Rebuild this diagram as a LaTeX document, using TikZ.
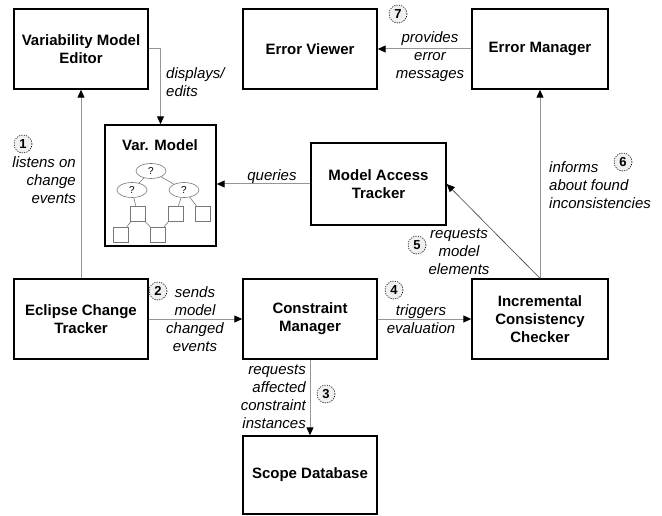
\documentclass[tikz,border=0pt]{standalone}
\usepackage{fontspec}
\setmainfont{Liberation Sans}
\usetikzlibrary{arrows.meta,calc,shapes.geometric}
\definecolor{conngray}{RGB}{150,150,150}
\definecolor{treegray}{RGB}{120,120,120}
\begin{document}
\begin{tikzpicture}[x=1pt,y=-1pt,
  box/.style={draw=black, line width=1.4pt, align=center, font=\fontsize{15}{18}\selectfont\bfseries, inner sep=0pt},
  conn/.style={draw=conngray, line width=1pt, -{Triangle[length=8pt,width=7pt,color=black]}},
  diag/.style={draw=black!75, line width=0.6pt, -{Triangle[length=8pt,width=7pt,color=black]}},
  lbl/.style={font=\fontsize{15}{18}\selectfont\itshape, inner sep=0pt},
  num/.style={circle, draw=black, dash pattern=on 1.2pt off 1.2pt, line width=0.6pt, fill=gray!12, minimum size=18pt, inner sep=0pt, font=\fontsize{13}{13}\selectfont\bfseries},
  tell/.style={ellipse, draw=treegray, line width=0.6pt, minimum width=30pt, minimum height=15pt, inner sep=0pt, font=\fontsize{10}{10}\selectfont},
  tsq/.style={rectangle, draw=treegray, line width=0.6pt, minimum size=15pt, inner sep=0pt},
  tedge/.style={draw=treegray, line width=0.6pt}
]
\useasboundingbox (0,0) rectangle (662,516);

% boxes
\node[box, minimum width=134pt, minimum height=80pt] (vme) at (81,49) {Variability Model\\Editor};
\node[box, minimum width=134pt, minimum height=80pt] (ev) at (310,49) {Error Viewer};
\node[box, minimum width=136pt, minimum height=80pt] (em) at (540,49) {Error Manager};
\node[box, minimum width=111pt, minimum height=121pt] (vm) at (160.5,185.5) {};
\node[font=\fontsize{15}{18}\selectfont\bfseries, inner sep=0pt] (vmt) at (160,145) {Var. Model};
\node[box, minimum width=135pt, minimum height=82pt] (mat) at (378.5,184) {Model Access\\Tracker};
\node[box, minimum width=134pt, minimum height=80pt] (ect) at (81,319) {Eclipse Change\\Tracker};
\node[box, minimum width=134pt, minimum height=80pt] (cm) at (310,319) {Constraint\\Manager};
\node[box, minimum width=136pt, minimum height=80pt] (icc) at (540,319) {Incremental\\Consistency\\Checker};
\node[box, minimum width=134pt, minimum height=78pt] (sd) at (310,475) {Scope Database};

% tree inside Var. Model
\node[tell] (t0) at (151,171) {?};
\node[tell] (t1) at (132,190) {?};
\node[tell] (t2) at (184,190) {?};
\node[tsq] (s1) at (137.5,213.5) {};
\node[tsq] (s2) at (175.5,213.5) {};
\node[tsq] (s3) at (202.5,213.5) {};
\node[tsq] (s4) at (120.5,234.5) {};
\node[tsq] (s5) at (157.5,234.5) {};
\draw[tedge] (t0) -- (t1);
\draw[tedge] (t0) -- (t2);
\draw[tedge] (t1) -- (s1);
\draw[tedge] (t2) -- (s2);
\draw[tedge] (t2) -- (s3);
\draw[tedge] (s1) -- (s4);
\draw[tedge] (s1) -- (s5);
\draw[tedge] (s2) -- (s5);

% connectors
\draw[conn] (ect.north) -- (vme.south);
\draw[conn] (vme.east) -| (vm.north);
\draw[conn] (mat.west) -- (mat.west -| vm.east);
\draw[conn] (ect.east) -- (cm.west);
\draw[conn] (cm.south) -- (sd.north);
\draw[conn] (cm.east) -- (icc.west);
\draw[conn] (icc.north) -- (em.south);
\draw[diag] (icc.north) -- (mat.east);
\draw[conn] (em.west) -- (ev.east);

% labels
\node[num] (n1) at (23,144) {1};
\node[lbl, align=right, anchor=east] (l1) at (76,180) {listens on\\change\\events};
\node[lbl, align=left, anchor=west] (ld) at (166,82) {displays/\\edits};
\node[lbl] (lq) at (272,177) {queries};
\node[num] (n2) at (158,291) {2};
\node[lbl, align=center] (l2) at (195,319) {sends\\model\\changed\\events};
\node[lbl, align=right, anchor=east] (l3) at (306,397) {requests\\affected\\constraint\\instances};
\node[num] (n3) at (326,394) {3};
\node[num] (n4) at (394,290) {4};
\node[lbl, align=center] (l4) at (421,319) {triggers\\evaluation};
\node[num] (n5) at (417,245) {5};
\node[lbl, align=center] (l5) at (459,252) {requests\\model\\elements};
\node[num] (n6) at (623,162) {6};
\node[lbl, align=left, anchor=west] (l6) at (549,185) {informs\\about found\\inconsistencies};
\node[num] (n7) at (398,14) {7};
\node[lbl, align=center] (l7) at (430,57) {provides\\error\\messages};
\end{tikzpicture}
\end{document}
